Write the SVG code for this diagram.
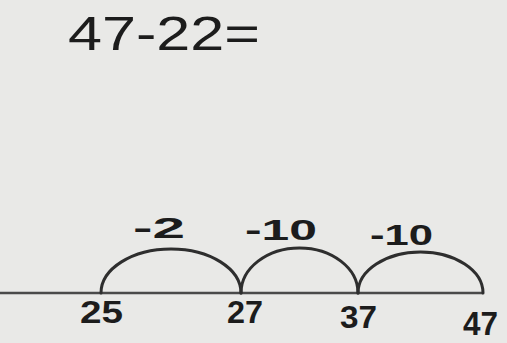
<svg xmlns="http://www.w3.org/2000/svg" width="507" height="343" viewBox="0 0 507 343">
<style>
.t{font-family:"Liberation Sans",Arial,sans-serif;fill:#1c1c1c;}
.b{font-weight:bold;}
.arc{fill:none;stroke:#2e2e2e;stroke-width:3;stroke-linecap:round;}
</style>
<rect x="0" y="0" width="507" height="343" fill="#e9e9e7"/>
<g id="title"><text class="t" x="68" y="50" font-size="48" textLength="192" lengthAdjust="spacingAndGlyphs">47-22=</text></g>
<g id="connectors">
<line x1="0" y1="293" x2="483" y2="293" stroke="#4a4a4a" stroke-width="2.5"/>
<path class="arc" d="M101,293 A70,44 0 0 1 241,293"/>
<path class="arc" d="M241,293 A58.5,45 0 0 1 358,293"/>
<path class="arc" d="M358,293 A62.5,41 0 0 1 483,293"/>
</g>
<g id="jump1"><text class="t b" x="133" y="238" font-size="29" textLength="52" lengthAdjust="spacingAndGlyphs">-2</text></g>
<g id="jump2"><text class="t b" x="245" y="240" font-size="30" textLength="72" lengthAdjust="spacingAndGlyphs">-10</text></g>
<g id="jump3"><text class="t b" x="370" y="245" font-size="30" textLength="63" lengthAdjust="spacingAndGlyphs">-10</text></g>
<g id="n25"><text class="t b" x="80" y="323" font-size="31" textLength="43" lengthAdjust="spacingAndGlyphs">25</text></g>
<g id="n27"><text class="t b" x="227" y="323" font-size="31" textLength="36" lengthAdjust="spacingAndGlyphs">27</text></g>
<g id="n37"><text class="t b" x="340" y="328" font-size="31" textLength="37" lengthAdjust="spacingAndGlyphs">37</text></g>
<g id="n47"><text class="t b" x="463" y="335" font-size="33" textLength="35" lengthAdjust="spacingAndGlyphs">47</text></g>
</svg>
